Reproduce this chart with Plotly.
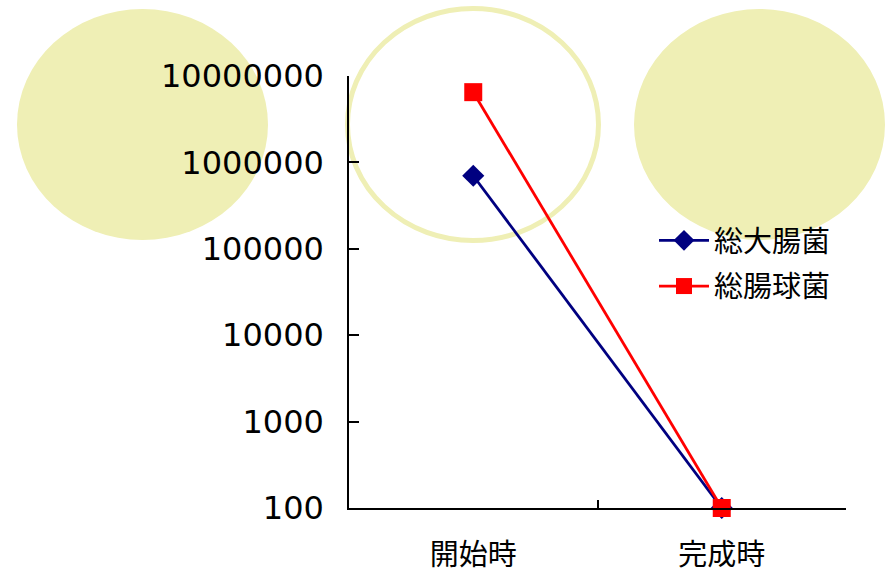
import plotly.graph_objects as go

categories = ["開始時", "完成時"]
total_coliform = [700000, 100]      # 総大腸菌
enterococci = [6500000, 100]        # 総腸球菌
series_names = ["総大腸菌", "総腸球菌"]
y_tickvals = [100, 1000, 10000, 100000, 1000000, 10000000]
y_ticktext = ["100", "1000", "10000", "100000", "1000000", "10000000"]

W, H = 891, 573
L, R, T, B = 349, 45, 76, 65
PW, PH = W - L - R, H - T - B

def px(x):
    return (x - L) / PW

def py(y):
    return (H - B - y) / PH

ELL = "rgb(239,239,181)"
fig = go.Figure()
fig.add_trace(go.Scatter(
    x=categories, y=total_coliform, name=series_names[0], mode="lines+markers",
    line=dict(color="#000080", width=2.8),
    marker=dict(symbol="diamond", size=17, color="#000080"),
    cliponaxis=False, legendgroup="a"))
fig.add_trace(go.Scatter(
    x=categories, y=enterococci, name=series_names[1], mode="lines+markers",
    line=dict(color="#FF0000", width=2.8),
    marker=dict(symbol="square", size=18, color="#FF0000"),
    cliponaxis=False, legendgroup="b"))

shapes = [
    dict(type="circle", xref="paper", yref="paper", layer="below",
         x0=px(17), x1=px(268), y0=py(240), y1=py(9),
         fillcolor=ELL, line=dict(width=0)),
    dict(type="circle", xref="paper", yref="paper", layer="below",
         x0=px(347.5), x1=px(598.5), y0=py(240.5), y1=py(8.5),
         fillcolor="rgba(0,0,0,0)", line=dict(width=5, color=ELL)),
    dict(type="circle", xref="paper", yref="paper", layer="below",
         x0=px(634), x1=px(885), y0=py(240), y1=py(9),
         fillcolor=ELL, line=dict(width=0)),
]

fig.update_layout(
    width=W, height=H,
    margin=dict(l=L, r=R, t=T, b=B, autoexpand=False),
    paper_bgcolor="white", plot_bgcolor="rgba(0,0,0,0)",
    shapes=shapes,
    showlegend=True,
    legend=dict(x=px(654), y=py(215), xanchor="left", yanchor="top",
                bgcolor="rgba(0,0,0,0)", borderwidth=0,
                font=dict(family="Noto Sans CJK JP", size=29, color="black"),
                itemwidth=50, tracegroupgap=5, traceorder="grouped"),
    xaxis=dict(type="category", range=[-0.5, 1.5], tickson="boundaries",
               ticks="inside", ticklen=8, tickcolor="black", tickwidth=1.5,
               showline=True, linecolor="black", linewidth=1.5,
               showgrid=False, zeroline=False, automargin=False,
               tickfont=dict(family="Noto Sans CJK JP", size=29, color="black"),
               ticklabelstandoff=20),
    yaxis=dict(type="log", range=[2, 7], tickmode="array",
               tickvals=y_tickvals, ticktext=y_ticktext,
               ticks="inside", ticklen=10, tickcolor="black", tickwidth=1.5,
               showline=True, linecolor="black", linewidth=1.5,
               showgrid=False, zeroline=False, automargin=False,
               tickfont=dict(family="DejaVu Sans", size=32, color="black"),
               ticklabelstandoff=17),
)

fig.write_html("out.html", config={"displayModeBar": False},
               post_script="document.body.style.margin='0';document.body.style.overflow='hidden';")
